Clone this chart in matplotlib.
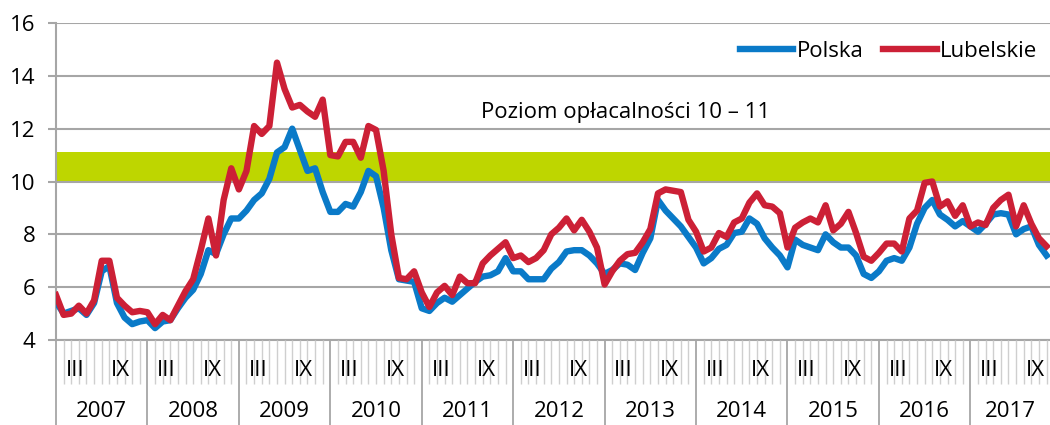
import numpy as np
import matplotlib.pyplot as plt
from matplotlib.transforms import blended_transform_factory

plt.rcParams['font.family'] = ['Open Sans', 'DejaVu Sans']

years = [2007, 2008, 2009, 2010, 2011, 2012, 2013, 2014, 2015, 2016, 2017]
month_labels = {2: 'III', 8: 'IX'}

# Jan 2007 - Nov 2017, monthly
polska = [5.45, 5.0, 5.1, 5.2, 4.95, 5.4, 6.6, 6.8, 5.4, 4.85, 4.6, 4.7,
          4.75, 4.45, 4.7, 4.75, 5.2, 5.6, 5.9, 6.5, 7.4, 7.25, 8.0, 8.6,
          8.6, 8.9, 9.3, 9.55, 10.1, 11.1, 11.3, 12.0, 11.2, 10.4, 10.5, 9.6,
          8.85, 8.85, 9.15, 9.05, 9.6, 10.4, 10.2, 9.0, 7.4, 6.3, 6.25, 6.2,
          5.2, 5.1, 5.4, 5.6, 5.45, 5.7, 5.95, 6.2, 6.4, 6.45, 6.6, 7.1,
          6.6, 6.6, 6.3, 6.3, 6.3, 6.7, 6.95, 7.35, 7.4, 7.4, 7.2, 6.9,
          6.5, 6.65, 6.9, 6.85, 6.65, 7.3, 7.85, 9.3, 8.9, 8.6, 8.3, 7.9,
          7.5, 6.9, 7.1, 7.45, 7.6, 8.05, 8.1, 8.6, 8.4, 7.85, 7.5, 7.2,
          6.75, 7.8, 7.6, 7.5, 7.4, 8.0, 7.7, 7.5, 7.5, 7.2, 6.5, 6.35,
          6.6, 7.0, 7.1, 7.0, 7.5, 8.4, 9.0, 9.3, 8.75, 8.55, 8.3, 8.5,
          8.3, 8.1, 8.4, 8.75, 8.8, 8.75, 8.0, 8.2, 8.3, 7.6, 7.2]
lubelskie = [5.7, 4.95, 5.0, 5.3, 5.0, 5.5, 7.0, 7.0, 5.6, 5.3, 5.05, 5.1,
             5.05, 4.6, 4.95, 4.75, 5.3, 5.85, 6.3, 7.4, 8.6, 7.2, 9.3, 10.5,
             9.7, 10.4, 12.1, 11.8, 12.1, 14.5, 13.5, 12.8, 12.9, 12.65, 12.45, 13.1,
             11.0, 10.95, 11.5, 11.5, 10.9, 12.1, 11.95, 10.4, 8.0, 6.35, 6.3, 6.6,
             5.8, 5.25, 5.8, 6.05, 5.7, 6.4, 6.15, 6.15, 6.9, 7.2, 7.45, 7.7,
             7.1, 7.2, 6.95, 7.1, 7.4, 8.0, 8.25, 8.6, 8.15, 8.55, 8.1, 7.5,
             6.1, 6.6, 7.0, 7.25, 7.3, 7.7, 8.2, 9.55, 9.7, 9.65, 9.6, 8.55,
             8.1, 7.35, 7.5, 8.05, 7.9, 8.45, 8.6, 9.2, 9.55, 9.1, 9.05, 8.8,
             7.5, 8.25, 8.45, 8.6, 8.45, 9.1, 8.15, 8.4, 8.85, 8.05, 7.15, 7.0,
             7.3, 7.65, 7.65, 7.35, 8.6, 8.9, 9.95, 10.0, 9.05, 9.25, 8.7, 9.1,
             8.3, 8.45, 8.35, 9.0, 9.3, 9.5, 8.3, 9.1, 8.4, 7.85, 7.55]
band_low, band_high = 10, 11.1

x = np.arange(len(polska))
xmax = 130.45

fig = plt.figure(figsize=(10.5, 4.25), dpi=100)
ax = fig.add_axes([56/1050, 1-340/425, 1-56/1050, 317/425])

ax.axhspan(band_low, band_high, color='#bed600', zorder=1, lw=0)
ax.plot(x, polska, color='#0a7ac8', lw=4.6, zorder=3, solid_joinstyle='round', label='Polska')
ax.plot(x, lubelskie, color='#cc2036', lw=4.6, zorder=4, solid_joinstyle='round', label='Lubelskie')

ax.set_xlim(0, xmax)
ax.set_ylim(4, 16)
ax.set_yticks(range(4, 17, 2))
ax.yaxis.grid(True, color='#a6a6a6', lw=1.5, zorder=2)
ax.set_axisbelow(False)
for s in ['top', 'right']:
    ax.spines[s].set_visible(False)
ax.spines['left'].set_color('#a6a6a6')
ax.spines['left'].set_linewidth(1.5)
ax.spines['bottom'].set_color('#a6a6a6')
ax.spines['bottom'].set_linewidth(1.5)
ax.tick_params(axis='y', length=6, width=1.5, color='#a6a6a6', labelsize=16, pad=9)

# category ticks: months and years
ax.set_xticks(np.arange(0, 131, 12))
ax.set_xticks(np.arange(0, 131), minor=True)
ax.tick_params(axis='x', which='major', length=62, width=1.3, color='#a6a6a6', labelbottom=False)
ax.tick_params(axis='x', which='minor', length=32, width=1.0, color='#cfcfcf')

tr = blended_transform_factory(ax.transData, ax.transAxes)
for k, yr in enumerate(years):
    start = 12*k
    for m, lab in month_labels.items():
        if start + m + 0.5 < xmax:
            ax.text(start + m + 0.5, -0.095, lab, transform=tr, ha='center', va='center',
                    fontsize=16)
    end = min(start + 12, xmax)
    ax.text((start + end) / 2, -0.225, str(yr), transform=tr, ha='center', va='center',
            fontsize=16)

ax.text(625/1050*0 + 74.8, 12.6, 'Poziom opłacalności 10 – 11', ha='center', va='center',
        fontsize=16, zorder=5)

ax.legend(loc='upper right', bbox_to_anchor=(1.005, 1.0), ncol=2, frameon=False, fontsize=16,
          handlelength=2.4, handletextpad=0.15, columnspacing=0.9, borderaxespad=0.4)

fig.savefig('out.png', dpi=100)
